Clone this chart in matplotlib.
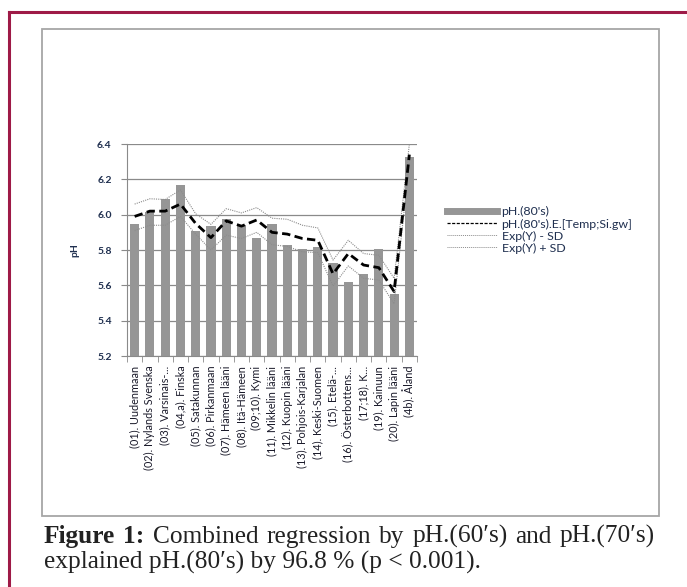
import matplotlib
matplotlib.use("Agg")
import matplotlib.pyplot as plt
from matplotlib.lines import Line2D
from matplotlib.patches import Rectangle
import numpy as np

categories = ["(01). Uudenmaan", "(02). Nylands Svenska", "(03). Varsinais-...", "(04,a). Finska",
              "(05). Satakunnan", "(06). Pirkanmaan", "(07). Hämeen lääni", "(08). Itä-Hämeen",
              "(09;10). Kymi", "(11). Mikkelin lääni", "(12). Kuopin lääni", "(13). Pohjois-Karjalan",
              "(14). Keski-Suomen", "(15). Etelä-...", "(16). Österbottens...", "(17;18). K...",
              "(19). Kainuun", "(20). Lapin lääni", "(4b). Åland"]
ph80 = [5.945, 6.015, 6.086, 6.167, 5.906, 5.936, 5.977, 5.94, 5.87, 5.945,
        5.827, 5.803, 5.815, 5.724, 5.617, 5.664, 5.803, 5.55, 6.329]
expected = [5.99, 6.02, 6.02, 6.06, 5.95, 5.87, 5.965, 5.935, 5.97, 5.90,
            5.89, 5.865, 5.855, 5.665, 5.78, 5.715, 5.70, 5.565, 6.34]
minus_sd = [5.91, 5.94, 5.94, 5.99, 5.89, 5.80, 5.884, 5.865, 5.90, 5.83,
            5.82, 5.79, 5.785, 5.596, 5.71, 5.64, 5.63, 5.495, 6.30]
plus_sd = [6.06, 6.09, 6.086, 6.14, 6.005, 5.945, 6.034, 6.01, 6.04, 5.98,
           5.974, 5.94, 5.925, 5.743, 5.855, 5.78, 5.77, 5.64, 6.40]
yticks = [5.2, 5.4, 5.6, 5.8, 6.0, 6.2, 6.4]
legend_labels = ["pH.(80's)", "pH.(80's).E.[Temp;Si.gw]", "Exp(Y) - SD", "Exp(Y) + SD"]

plt.rcParams['font.family'] = ['Lato', 'DejaVu Sans']

W, H = 687, 587
fig = plt.figure(figsize=(W / 100, H / 100), dpi=100)

def fx(px):
    return px / W

def fy(py):
    return 1 - py / H

# outer crimson frame (top and left)
crimson = "#9e1a47"
fig.add_artist(Line2D([fx(9), 1.0], [fy(12), fy(12)], color=crimson, lw=2.2, transform=fig.transFigure))
fig.add_artist(Line2D([fx(9), fx(9)], [fy(12), 0.0], color=crimson, lw=2.2, transform=fig.transFigure))
# chart box
fig.add_artist(Rectangle((fx(42), fy(516)), fx(659) - fx(42), fy(29) - fy(516),
                         fill=False, edgecolor="#a6a6a6", lw=1.3, transform=fig.transFigure))

ax = fig.add_axes([fx(127), fy(356), fx(417) - fx(127), fy(144) - fy(356)])
x = np.arange(len(categories))
ax.bar(x, ph80, width=0.6, color="#969696", zorder=2)
ax.plot(x, minus_sd, color="#8c8c8c", lw=0.8, ls=(0, (1, 1)), zorder=3)
ax.plot(x, plus_sd, color="#8c8c8c", lw=0.8, ls=(0, (1, 1)), zorder=3)
ax.plot(x, expected, color="black", lw=2.0, ls=(0, (3, 1.6)), zorder=4)

ax.set_ylim(5.2, 6.4)
ax.set_xlim(-0.5, len(categories) - 0.5)
ax.set_yticks(yticks)
ax.set_yticklabels([f"{v:.1f}" for v in yticks], fontsize=7.5, fontweight="bold", color="#1f2f4f")
ax.yaxis.grid(True, color="#8a8a8a", lw=0.9, zorder=0)
ax.set_axisbelow(True)
for s in ["top", "right"]:
    ax.spines[s].set_visible(False)
ax.spines["left"].set_color("#8a8a8a")
ax.spines["bottom"].set_color("#8a8a8a")
ax.tick_params(axis="y", length=4, color="#8a8a8a", pad=7)
ax.set_xticks(np.arange(-0.5, len(categories), 1.0), minor=True)
ax.set_xticks(x)
ax.set_xticklabels(categories, rotation=90, fontsize=7.8, va="top", ha="center", color="#1a1a2a")
ax.tick_params(axis="x", which="major", length=0, pad=7)
ax.tick_params(axis="x", which="minor", length=4, color="#8a8a8a")
ax.set_ylabel("pH", fontsize=7.5, fontweight="bold", color="#1f2f4f", labelpad=13)

handles = [Line2D([], [], color="#969696", lw=5),
           Line2D([], [], color="black", lw=0.9, ls=(0, (2.5, 1.2))),
           Line2D([], [], color="#8c8c8c", lw=0.7, ls=(0, (1, 1))),
           Line2D([], [], color="#8c8c8c", lw=0.7, ls=(0, (1, 1)))]
fig.legend(handles, legend_labels, loc="center left", bbox_to_anchor=(fx(436), fy(230)),
           frameon=False, fontsize=8.9, handlelength=4.0, handletextpad=0.4,
           labelspacing=0.08, labelcolor="#1f2f4f")

# caption: first line justified, second line natural
fig.canvas.draw()
r = fig.canvas.get_renderer()
fam = "Liberation Serif"
line2 = "explained pH.(80\u2032s) by 96.8 % (p < 0.001)."
words = [("Figure", "bold"), ("1:", "bold"), ("Combined", "normal"), ("regression", "normal"),
         ("by", "normal"), ("pH.(60\u2032s)", "normal"), ("and", "normal"), ("pH.(70\u2032s)", "normal")]

def width_of(s, size, wt="normal"):
    tt = fig.text(0, 0, s, fontsize=size, family=fam, fontweight=wt)
    w = tt.get_window_extent(renderer=r).width
    tt.remove()
    return w

sp = width_of("a a", 14) - width_of("aa", 14)
l1 = sum(width_of(w, 14, wt) for w, wt in words) + sp * (len(words) - 1)
l2 = width_of(line2, 14)
size = 0.5 * (14 * 434 / l2 + 14 * 611 / l1)

widths = [width_of(w, size, wt) for w, wt in words]
gap = (655 - 44 - sum(widths)) / (len(words) - 1)
xpos = 44.0
for (w, wt), wd in zip(words, widths):
    fig.text(fx(xpos), fy(543), w, fontsize=size, family=fam, fontweight=wt,
             va="baseline", color="#222222")
    xpos += wd + gap
fig.text(fx(44), fy(569), line2, fontsize=size, family=fam, va="baseline", color="#222222")

fig.savefig("out.png", dpi=100)
